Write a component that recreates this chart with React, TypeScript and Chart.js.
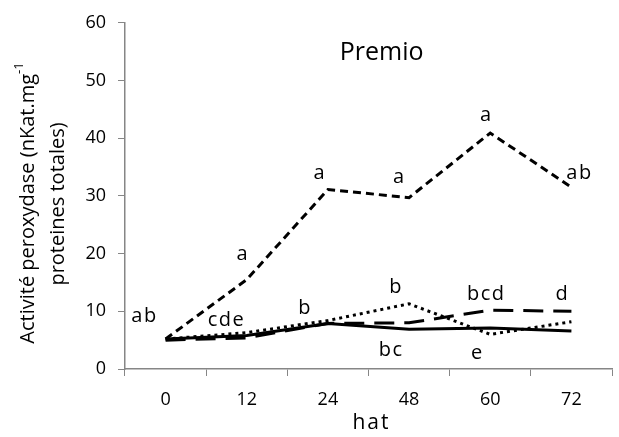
import React, { useEffect, useRef } from "react";
import { Chart, registerables } from "chart.js";

Chart.register(...registerables);

const categories = ["0", "12", "24", "48", "60", "72"];
const yTicks = [0, 10, 20, 30, 40, 50, 60];
const seriesShortDash = [5.2, 15.5, 31.1, 29.7, 40.9, 31.5];
const seriesDotted = [5.2, 6.3, 8.4, 11.3, 6.0, 8.2];
const seriesLongDash = [5.0, 5.4, 7.9, 8.0, 10.2, 10.0];
const seriesSolid = [5.2, 5.8, 7.9, 6.9, 7.1, 6.6];

// letter annotations: category position (index), value, text
const labelIdx = [-0.26, 0.95, 1.9, 2.88, 3.95, 5.1, 0.75, 1.72, 2.84, 2.78, 3.95, 3.84, 4.89];
const labelVal = [9.1, 19.9, 34, 33.2, 43.9, 34, 8.4, 10.6, 14.1, 3.2, 12.9, 2.7, 12.9];
const labelText = ["ab", "a", "a", "a", "a", "ab", "cde", "b", "b", "bc", "bcd", "e", "d"];

const chartTitle = "Premio";
const yTitle1 = "Activité peroxydase (nKat.mg";
const yTitleSup = "-1";
const yTitle2 = "proteines totales)";
const xTitle = "hat";

const FONT = "'Open Sans', 'Liberation Sans', sans-serif";

export default function App() {
  const ref = useRef<HTMLCanvasElement | null>(null);
  useEffect(() => {
    document.body.style.margin = "0";
    const canvas = ref.current!;
    const setLS = (ctx: any, v: string) => { try { ctx.letterSpacing = v; } catch (e) {} };
    const textPlugin = {
      id: "texts",
      afterDraw(chart: any) {
        const ctx = chart.ctx;
        const xs = chart.scales.x;
        const ys = chart.scales.y;
        const ca = chart.chartArea;
        ctx.save();
        ctx.fillStyle = "#000";
        ctx.textAlign = "center";
        ctx.textBaseline = "middle";
        ctx.font = `20px ${FONT}`;
        setLS(ctx, "1.5px");
        const step = xs.getPixelForValue(1) - xs.getPixelForValue(0);
        for (let i = 0; i < labelText.length; i++) {
          const px = xs.getPixelForValue(0) + labelIdx[i] * step;
          const py = ys.getPixelForValue(labelVal[i]);
          ctx.fillText(labelText[i], px, py);
        }
        setLS(ctx, "0px");
        // title
        ctx.font = `25px ${FONT}`;
        ctx.fillText(chartTitle, ca.left + 0.527 * (ca.right - ca.left), ys.getPixelForValue(54.8));
        // x title
        ctx.font = `21px ${FONT}`;
        setLS(ctx, "2px");
        ctx.fillText(xTitle, (ca.left + ca.right) / 2 + 3, 423);
        setLS(ctx, "0px");
        // y title
        ctx.save();
        ctx.translate(28, 203);
        ctx.rotate(-Math.PI / 2);
        ctx.font = `20px ${FONT}`;
        const w1 = ctx.measureText(yTitle1).width;
        ctx.font = `13px ${FONT}`;
        const ws = ctx.measureText(yTitleSup).width;
        const total = w1 + ws;
        ctx.textAlign = "left";
        ctx.font = `20px ${FONT}`;
        ctx.fillText(yTitle1, -total / 2, 0);
        ctx.font = `13px ${FONT}`;
        ctx.fillText(yTitleSup, -total / 2 + w1, -9);
        ctx.restore();
        ctx.save();
        ctx.translate(58, 204);
        ctx.rotate(-Math.PI / 2);
        ctx.font = `20px ${FONT}`;
        ctx.textAlign = "center";
        ctx.fillText(yTitle2, 0, 0);
        ctx.restore();
        ctx.restore();
      },
    };
    const common = { borderColor: "#000", backgroundColor: "#000", borderWidth: 3, pointRadius: 0, tension: 0, fill: false };
    const chart = new Chart(canvas, {
      type: "line",
      data: {
        labels: categories,
        datasets: [
          { ...common, label: "s1", data: seriesShortDash, borderDash: [8, 5] },
          { ...common, label: "s2", data: seriesDotted, borderDash: [3, 4] },
          { ...common, label: "s3", data: seriesLongDash, borderDash: [20, 10] },
          { ...common, label: "s4", data: seriesSolid },
        ],
      },
      options: {
        animation: false,
        responsive: false,
        maintainAspectRatio: false,
        layout: { padding: { top: 18, right: 7, left: 0, bottom: 0 } },
        plugins: { legend: { display: false }, tooltip: { enabled: false }, title: { display: false } },
        scales: {
          x: {
            type: "category",
            offset: true,
            grid: { display: true, drawOnChartArea: false, offset: true, tickLength: 7, color: "#868686", lineWidth: 1 },
            border: { color: "#868686", width: 1.5 },
            ticks: { color: "#000", font: { size: 18, family: FONT }, padding: 13 },
            afterFit: (s: any) => { s.height = 68; },
          },
          y: {
            min: 0,
            max: 60,
            afterBuildTicks: (s: any) => { s.ticks = yTicks.map((v) => ({ value: v })); },
            grid: { display: true, drawOnChartArea: false, tickLength: 7, color: "#868686", lineWidth: 1 },
            border: { color: "#868686", width: 1.5 },
            ticks: { color: "#000", font: { size: 18, family: FONT }, padding: 12 },
            afterFit: (s: any) => { s.width = 125; },
          },
        },
      },
      plugins: [textPlugin],
    });
    return () => chart.destroy();
  }, []);
  return (
    <div style={{ position: "fixed", left: 0, top: 0, width: 619, height: 437 }}>
      <canvas ref={ref} width={619} height={437} style={{ width: 619, height: 437, display: "block" }} />
    </div>
  );
}
